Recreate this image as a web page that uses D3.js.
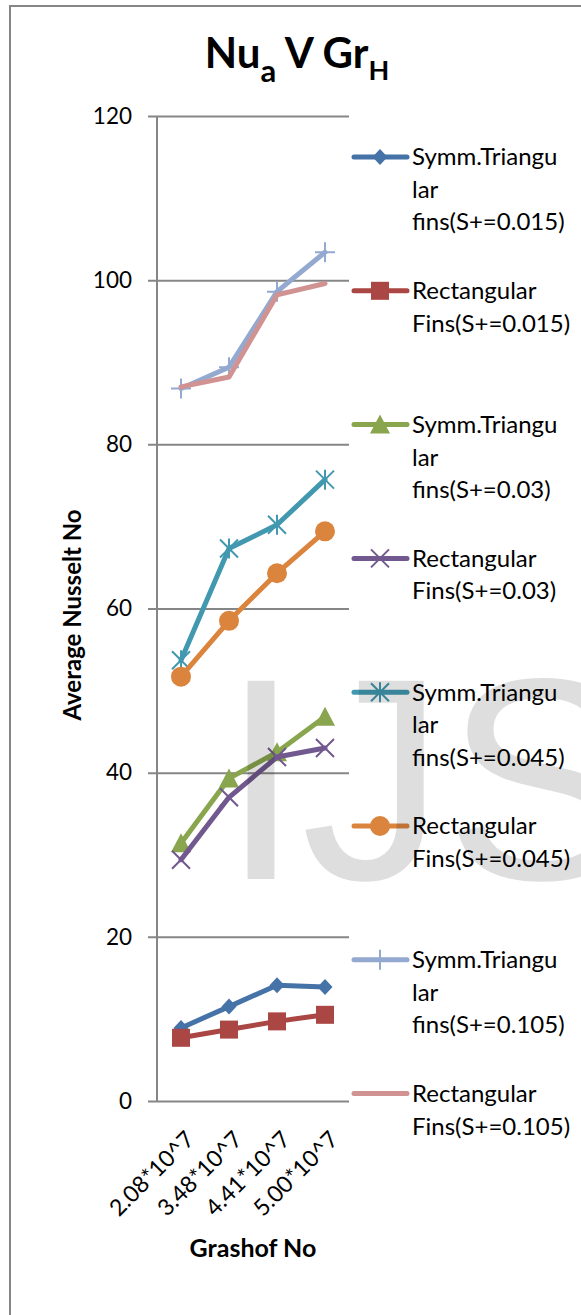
<!DOCTYPE html>
<html>
<head>
<meta charset="utf-8">
<script src="https://cdn.jsdelivr.net/npm/d3@7"></script>
<style>
  body { margin: 0; background: #fff; }
  svg text { font-family: Lato, "Open Sans", sans-serif; fill: #000; }
</style>
</head>
<body>
<svg id="chart" width="581" height="1315"></svg>
<script>
// categories (Grashof No) and average Nusselt numbers
var categories = ['2.08*10^7', '3.48*10^7', '4.41*10^7', '5.00*10^7'];
var yTicks = [0, 20, 40, 60, 80, 100, 120];

var triFins015 = [8.9, 11.5, 14.1, 13.9];
var rectFins015 = [7.7, 8.7, 9.7, 10.5];
var triFins03 = [31.4, 39.3, 42.5, 46.8];
var rectFins03 = [29.4, 37.0, 41.9, 43.0];
var triFins045 = [53.7, 67.3, 70.2, 75.7];
var rectFins045 = [51.7, 58.5, 64.3, 69.4];
var triFins105 = [86.8, 89.4, 98.6, 103.4];
var rectFins105 = [87.0, 88.2, 98.2, 99.6];

var seriesNames = [
  ['Symm.Triangu', 'lar', 'fins(S+=0.015)'],
  ['Rectangular', 'Fins(S+=0.015)'],
  ['Symm.Triangu', 'lar', 'fins(S+=0.03)'],
  ['Rectangular', 'Fins(S+=0.03)'],
  ['Symm.Triangu', 'lar', 'fins(S+=0.045)'],
  ['Rectangular', 'Fins(S+=0.045)'],
  ['Symm.Triangu', 'lar', 'fins(S+=0.105)'],
  ['Rectangular', 'Fins(S+=0.105)']
];
var seriesValues = [triFins015, rectFins015, triFins03, rectFins03,
                    triFins045, rectFins045, triFins105, rectFins105];
var seriesColors = ['#4572A7', '#AA4643', '#89A54E', '#71588F',
                    '#4198AF', '#DB843D', '#93A9CF', '#D09392'];
var seriesMarkers = ['diamond', 'square', 'triangle', 'x', 'star', 'circle', 'plus', 'none'];

var svg = d3.select('#chart');

// chart frame (right & bottom edges are outside the window)
svg.append('rect')
  .attr('x', 10).attr('y', 6)
  .attr('width', 600).attr('height', 1330)
  .attr('fill', '#fff')
  .attr('stroke', '#868686')
  .attr('stroke-width', 2);

var plot = { left: 157, right: 349, top: 116, bottom: 1101 };

var x = d3.scaleBand()
  .domain(categories)
  .range([plot.left, plot.right]);
var y = d3.scaleLinear()
  .domain([0, 120])
  .range([plot.bottom, plot.top]);

// gridlines + y axis
var yAxis = d3.axisLeft(y)
  .tickValues(yTicks)
  .tickSize(-(plot.right - plot.left))
  .tickPadding(25);
var gy = svg.append('g')
  .attr('transform', 'translate(' + plot.left + ',0)')
  .call(yAxis);
gy.select('.domain').remove();
gy.selectAll('.tick line')
  .attr('x1', -9)
  .attr('stroke', '#868686')
  .attr('stroke-width', 2);
gy.selectAll('.tick text')
  .style('font-size', '22.5px')
  .style('font-family', 'Lato, sans-serif')
  .attr('fill', '#000');
svg.append('line')
  .attr('x1', plot.left).attr('x2', plot.left)
  .attr('y1', plot.top).attr('y2', plot.bottom)
  .attr('stroke', '#868686')
  .attr('stroke-width', 2);

// x axis labels, rotated
var xAxis = d3.axisBottom(x).tickSize(0).tickPadding(0);
var gx = svg.append('g')
  .attr('transform', 'translate(0,' + plot.bottom + ')')
  .call(xAxis);
gx.select('.domain').remove();
gx.selectAll('.tick text')
  .style('font-size', '23px')
  .style('font-family', 'Lato, sans-serif')
  .attr('fill', '#000')
  .attr('text-anchor', 'end')
  .attr('y', 0).attr('dy', '0.35em')
  .attr('transform', 'translate(9,34) rotate(-45)');

// titles
var title = svg.append('text')
  .attr('x', 297).attr('y', 68)
  .attr('text-anchor', 'middle')
  .style('font-size', '42px')
  .style('font-weight', 'bold');
title.append('tspan').text('Nu');
title.append('tspan').text('a').attr('dy', 14).style('font-size', '31px');
title.append('tspan').text(' V Gr').attr('dy', -14);
title.append('tspan').text('H').attr('dy', 12).style('font-size', '27px');

svg.append('text')
  .attr('transform', 'translate(73,615) rotate(-90)')
  .attr('text-anchor', 'middle')
  .attr('dy', '0.35em')
  .style('font-size', '24px')
  .style('font-weight', 'bold')
  .text('Average Nusselt No');

svg.append('text')
  .attr('x', 253).attr('y', 1257)
  .attr('text-anchor', 'middle')
  .style('font-size', '25px')
  .style('font-weight', 'bold')
  .text('Grashof No');

// markers
function drawMarker(g, type, color) {
  if (type === 'diamond') {
    g.append('path').attr('d', 'M0,-8L7.5,0L0,8L-7.5,0Z').attr('fill', color);
  } else if (type === 'square') {
    g.append('rect').attr('x', -9).attr('y', -9).attr('width', 18).attr('height', 18).attr('fill', color);
  } else if (type === 'triangle') {
    g.append('path').attr('d', 'M0,-10L10,9L-10,9Z').attr('fill', color);
  } else if (type === 'circle') {
    g.append('circle').attr('r', 10).attr('fill', color);
  } else if (type === 'x') {
    g.append('path').attr('d', 'M-9,-9L9,9M-9,9L9,-9')
      .attr('stroke', color).attr('stroke-width', 2).attr('fill', 'none');
  } else if (type === 'star') {
    g.append('path').attr('d', 'M-9,-9L9,9M-9,9L9,-9M0,-10L0,10')
      .attr('stroke', color).attr('stroke-width', 2).attr('fill', 'none');
  } else if (type === 'plus') {
    g.append('path').attr('d', 'M-10,0L10,0M0,-10L0,10')
      .attr('stroke', color).attr('stroke-width', 2).attr('fill', 'none');
  }
}

var line = d3.line()
  .x(function(d, i) { return x(categories[i]) + x.bandwidth() / 2; })
  .y(function(d) { return y(d); });

seriesValues.forEach(function(vals, s) {
  var g = svg.append('g');
  g.append('path')
    .datum(vals)
    .attr('d', line)
    .attr('fill', 'none')
    .attr('stroke', seriesColors[s])
    .attr('stroke-width', 5)
    .attr('stroke-linejoin', 'round')
    .attr('stroke-linecap', 'round');
  vals.forEach(function(v, i) {
    var m = g.append('g')
      .attr('transform', 'translate(' + (x(categories[i]) + x.bandwidth() / 2) + ',' + y(v) + ')');
    drawMarker(m, seriesMarkers[s], seriesColors[s]);
  });
});

// legend
var legendTop = 157, legendStep = 133.8, lineGap = 32.5;
seriesNames.forEach(function(lines, s) {
  var ly = legendTop + s * legendStep;
  var g = svg.append('g');
  g.append('line')
    .attr('x1', 354).attr('x2', 407)
    .attr('y1', ly).attr('y2', ly)
    .attr('stroke', seriesColors[s])
    .attr('stroke-width', 5)
    .attr('stroke-linecap', 'round');
  var m = g.append('g').attr('transform', 'translate(380,' + ly + ')');
  drawMarker(m, seriesMarkers[s], seriesColors[s]);
  lines.forEach(function(t, k) {
    g.append('text')
      .attr('x', 412)
      .attr('y', ly + k * lineGap)
      .attr('dy', '0.35em')
      .style('font-size', '24px')
      .text(t);
  });
});

// faint watermark from the source page
svg.append('text')
  .attr('x', 221).attr('y', 879)
  .style('font-family', '"Liberation Sans", Arial, sans-serif')
  .style('font-size', '288px')
  .attr('fill', '#000')
  .attr('fill-opacity', 0.13)
  .text('IJS');
</script>
</body>
</html>
